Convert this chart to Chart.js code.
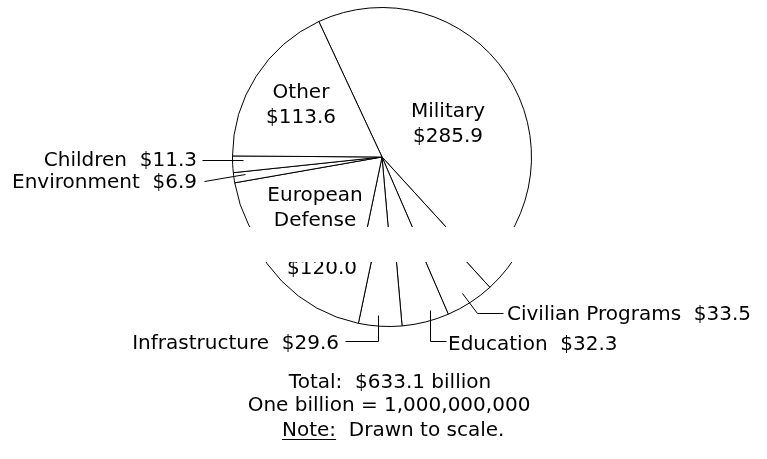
<!DOCTYPE html>
<html>
<head>
<meta charset="utf-8">
<script src="https://cdn.jsdelivr.net/npm/chart.js@4.4.1/dist/chart.umd.min.js"></script>
<style>
  html, body { margin: 0; padding: 0; background: #fff; }
  canvas { display: block; }
</style>
</head>
<body>
<canvas id="pie-chart-area" width="767" height="459"></canvas>
<script>
var categories = ['Military', 'Civilian Programs', 'Education', 'Infrastructure',
                  'European Defense', 'Environment', 'Children', 'Other'];
var amounts = [285.9, 33.5, 32.3, 29.6, 120.0, 6.9, 11.3, 113.6];
var totalText = 'Total:  $633.1 billion';
var unitText = 'One billion = 1,000,000,000';

var FONT = '20px "DejaVu Sans"';

function money(v) {
    return '$' + v.toFixed(1);
}

// labels drawn inside the pie (before the strip is cut out)
var insideLabels = {
    'Other': {x: 301, y: [98, 123], lines: ['Other']},
    'Military': {x: 448, y: [117, 142], lines: ['Military']},
    'European Defense': {x: 315, y: [201, 226, 254], lines: ['European', 'Defense']}
};

// labels outside, with their leader lines (drawn after the cut)
var callouts = {
    'Children': {x: 197, y: 166, align: 'right', line: [[202, 160], [243, 160]]},
    'Environment': {x: 197, y: 188, align: 'right', line: [[204, 181], [245, 174]]},
    'Infrastructure': {x: 339, y: 349, align: 'right', line: [[345, 341], [378, 341], [378, 315]]},
    'Education': {x: 448, y: 350, align: 'left', line: [[430, 310], [430, 341], [446, 341]]},
    'Civilian Programs': {x: 507, y: 320, align: 'left', line: [[462, 293], [477, 313], [503, 313]]}
};

var cutPlugin = {
    id: 'cutAndLabels',
    beforeDraw: function (chart) {
        var ctx = chart.ctx;
        ctx.save();
        ctx.fillStyle = '#fff';
        ctx.fillRect(0, 0, chart.width, chart.height);
        ctx.restore();
    },
    afterDatasetsDraw: function (chart) {
        var ctx = chart.ctx;
        var w = chart.width, h = chart.height;
        ctx.save();
        ctx.fillStyle = '#000';
        ctx.font = FONT;
        ctx.textAlign = 'center';
        ctx.textBaseline = 'alphabetic';
        $each(categories, function (i, name) {
            var lab = insideLabels[name];
            if (!lab) return;
            var lines = lab.lines.concat([money(amounts[i])]);
            for (var k = 0; k < lines.length; k++) {
                ctx.fillText(lines[k], lab.x, lab.y[k]);
            }
        });

        // the scan is missing a strip: lower part slides down and right
        var part = ctx.getImageData(0, 242, w - 7, h - 262);
        ctx.fillStyle = '#fff';
        ctx.fillRect(0, 227, w, h - 227);
        ctx.putImageData(part, 7, 262);
        ctx.fillRect(0, 227, w, 35);

        ctx.fillStyle = '#000';
        ctx.strokeStyle = '#000';
        ctx.lineWidth = 1;
        $each(categories, function (i, name) {
            var c = callouts[name];
            if (!c) return;
            ctx.textAlign = c.align;
            ctx.fillText(name + '  ' + money(amounts[i]), c.x, c.y);
            ctx.beginPath();
            ctx.moveTo(c.line[0][0] + 0.5, c.line[0][1] + 0.5);
            for (var k = 1; k < c.line.length; k++) {
                ctx.lineTo(c.line[k][0] + 0.5, c.line[k][1] + 0.5);
            }
            ctx.stroke();
        });

        ctx.textAlign = 'center';
        ctx.fillText(totalText, 390, 388);
        ctx.fillText(unitText, 389, 411);
        ctx.textAlign = 'left';
        var noteX = 282;
        ctx.fillText('Note:', noteX, 436);
        var nw = ctx.measureText('Note:').width;
        ctx.fillText('  Drawn to scale.', noteX + nw, 436);
        ctx.fillRect(noteX, 439, nw, 1);
        ctx.restore();
    }
};

function $each(arr, fn) {
    for (var i = 0; i < arr.length; i++) fn(i, arr[i]);
}

function renderPie() {
    var config = {
        type: 'pie',
        data: {
            labels: categories,
            datasets: [{
                data: amounts,
                backgroundColor: '#fff',
                borderColor: '#000',
                borderWidth: 1
            }]
        },
        options: {
            responsive: false,
            devicePixelRatio: 1,
            animation: false,
            events: [],
            rotation: -25,
            layout: {padding: {left: 232, right: 235, top: 7, bottom: 152}},
            plugins: {
                legend: {display: false},
                tooltip: {enabled: false}
            }
        },
        plugins: [cutPlugin]
    };
    var ctx = document.getElementById('pie-chart-area').getContext('2d');
    new Chart(ctx, config);
}

renderPie();
</script>
</body>
</html>
